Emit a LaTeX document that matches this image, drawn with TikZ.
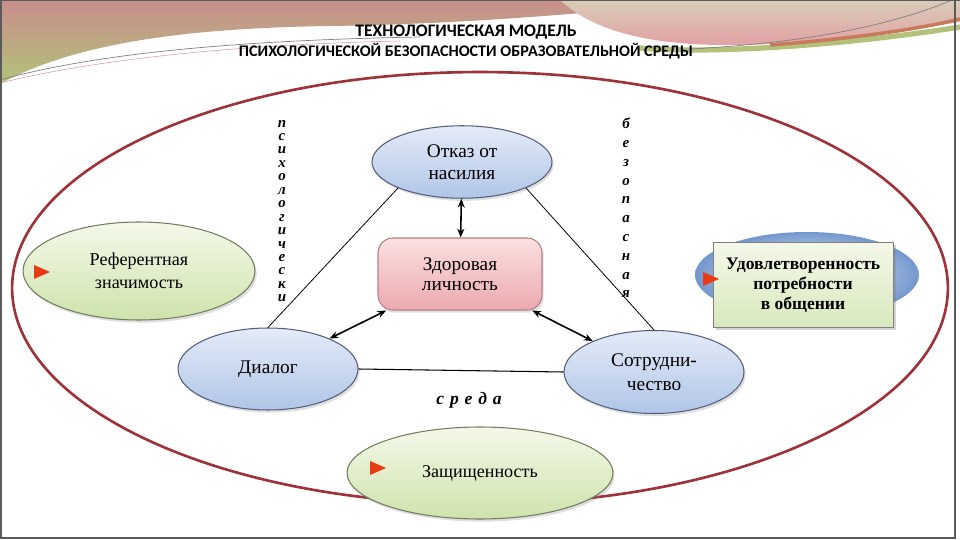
\documentclass[tikz,border=0pt]{standalone}
\usepackage{fontspec}
\setmainfont{Liberation Serif}
\newfontfamily\titlefont{Carlito}
\usetikzlibrary{shapes.geometric,shadows,arrows.meta}
\definecolor{elBlueTop}{RGB}{228,235,248}
\definecolor{elBlueBot}{RGB}{176,197,231}
\definecolor{elBlueLine}{RGB}{85,95,125}
\definecolor{elGreenTop}{RGB}{244,248,233}
\definecolor{elGreenBot}{RGB}{206,227,172}
\definecolor{elGreenLine}{RGB}{115,125,95}
\definecolor{rectPinkTop}{RGB}{251,224,224}
\definecolor{rectPinkBot}{RGB}{236,170,175}
\definecolor{rectPinkLine}{RGB}{175,130,135}
\definecolor{bigRed}{RGB}{158,50,58}
\definecolor{markRed}{RGB}{232,58,20}
\definecolor{udBlue}{RGB}{68,116,188}
\definecolor{bandPink}{RGB}{200,142,140}
\definecolor{bandGreen}{RGB}{178,194,122}
\definecolor{bandBeige}{RGB}{216,204,184}
\definecolor{bandRose}{RGB}{226,160,164}
\definecolor{bandRust}{RGB}{200,122,92}
\definecolor{frameGray}{RGB}{90,90,90}
\newcommand\marker[1]{\fill[markRed] (#1) ++(-8,-7) -- ++(16,7) -- ++(-16,7) -- cycle;}
\begin{document}
\begin{tikzpicture}[x=0.02cm, y=-0.02cm,
    blueEl/.style={ellipse, draw=elBlueLine, line width=0.6pt, top color=elBlueTop,
      bottom color=elBlueBot, drop shadow={opacity=0.25, shadow xshift=1pt, shadow yshift=-1.5pt},
      inner sep=0pt, align=center, font=\fontsize{11}{12.5}\selectfont},
    greenEl/.style={ellipse, draw=elGreenLine, line width=0.6pt, top color=elGreenTop,
      bottom color=elGreenBot, drop shadow={opacity=0.25, shadow xshift=1pt, shadow yshift=-1.5pt},
      inner sep=0pt, align=center, font=\fontsize{10.3}{13}\selectfont},
    vtext/.style={align=center, inner sep=0pt, font=\bfseries\itshape\fontsize{8.5}{7.65}\selectfont},
    thinLine/.style={line width=0.45pt},
    dblArrow/.style={{Stealth[length=5pt,width=4pt]}-{Stealth[length=5pt,width=4pt]}, line width=0.9pt}]
  % Технологическая модель психологической безопасности образовательной среды
  \useasboundingbox (0,0) rectangle (960,540);
  \shade[top color=bandPink, bottom color=bandGreen] (0,0) -- (720,0)
    .. controls (620,10) and (480,24) .. (330,26) .. controls (200,28) and (80,40) .. (0,84) -- cycle;
  \draw[gray, line width=0.4pt] (0,80) .. controls (100,52) and (250,40) .. (420,37);
  \draw[bigRed!50, line width=0.3pt] (0,83) .. controls (110,56) and (260,44) .. (400,41);
  \shade[top color=bandBeige, bottom color=bandRose] (560,0) -- (960,0) -- (960,22)
    .. controls (880,34) and (800,46) .. (720,45) .. controls (640,44) and (590,28) .. (560,0) -- cycle;
  \draw[bandGreen, line width=3pt] (640,48) .. controls (710,54) and (840,46) .. (960,27);
  \draw[bandRust, line width=2pt] (770,45) .. controls (850,39) and (920,29) .. (960,19);
  \draw[gray, line width=0.4pt] (690,49) .. controls (820,42) and (900,22) .. (952,0);
  \draw[frameGray, line width=0.6pt] (1,0) -- (1,538) -- (955,538) -- (955,0);
  \draw[frameGray, line width=0.8pt] (0,0.5) -- (960,0.5);

  \node[font=\titlefont\bfseries\fontsize{10}{12}\selectfont] (T1) at (466,32) {ТЕХНОЛОГИЧЕСКАЯ МОДЕЛЬ};
  \node[font=\titlefont\bfseries\fontsize{9.2}{11}\selectfont] (T2) at (466,51) {ПСИХОЛОГИЧЕСКОЙ БЕЗОПАСНОСТИ ОБРАЗОВАТЕЛЬНОЙ СРЕДЫ};

  \draw[bigRed, line width=1.5pt] (480,288) ellipse (9.36cm and 4.32cm);

  \node[blueEl, minimum width=3.6cm, minimum height=1.45cm] (OT) at (462,162) {Отказ от\\насилия};
  \node[rectangle, rounded corners=0.3cm, draw=rectPinkLine, line width=0.6pt, top color=rectPinkTop,
    bottom color=rectPinkBot, drop shadow={opacity=0.25, shadow xshift=1pt, shadow yshift=-1.5pt},
    minimum width=3.28cm, minimum height=1.44cm, align=center, font=\fontsize{11}{11.5}\selectfont]
    (ZD) at (460,274) {Здоровая\\личность};
  \node[blueEl, minimum width=3.6cm, minimum height=1.64cm] (DI) at (268,369) {Диалог};
  \node[blueEl, minimum width=3.6cm, minimum height=1.66cm, font=\fontsize{11}{13.6}\selectfont]
    (SO) at (654,372) {Сотрудни-\\чество};
  \node[greenEl, minimum width=4.64cm, minimum height=1.96cm] (RZ) at (139,271) {Референтная\\значимость};
  \node[greenEl, minimum width=5.32cm, minimum height=1.84cm] (ZA) at (480,473) {Защищенность};
  \node[ellipse, shading=radial, inner color=white, outer color=udBlue!75, minimum width=4.48cm,
    minimum height=1.72cm] (UDfon) at (807,275) {};
  \node[rectangle, draw=gray, line width=0.5pt, top color=elGreenTop, bottom color=elGreenBot!80,
    drop shadow={opacity=0.35, shadow xshift=1.5pt, shadow yshift=-1.5pt}, minimum width=3.6cm,
    minimum height=1.7cm, align=center, font=\bfseries\fontsize{10}{11.3}\selectfont]
    (UD) at (803,285) {Удовлетворенность\\потребности\\в общении};

  \marker{42,272}
  \marker{711,279}
  \marker{378,468}

  \node[vtext] (PS) at (282,211) {п\\с\\и\\х\\о\\л\\о\\г\\и\\ч\\е\\с\\к\\и};
  \node[vtext, font=\bfseries\itshape\fontsize{8.5}{10.7}\selectfont] (BZ) at (626,208) {б\\е\\з\\о\\п\\а\\с\\н\\а\\я};
  \node[font=\bfseries\itshape\fontsize{10}{12}\selectfont] (SR) at (469,400) {с\,\,р\,\,е\,\,д\,\,а};

  \draw[thinLine] (OT.south west) -- (DI.north);
  \draw[thinLine] (OT.south east) -- (SO.north);
  \draw[line width=0.6pt] (DI.east) -- (SO.west);
  \draw[dblArrow] (OT) -- (ZD);
  \draw[dblArrow] (ZD) -- (DI);
  \draw[dblArrow] (ZD) -- (SO);
\end{tikzpicture}
\end{document}
